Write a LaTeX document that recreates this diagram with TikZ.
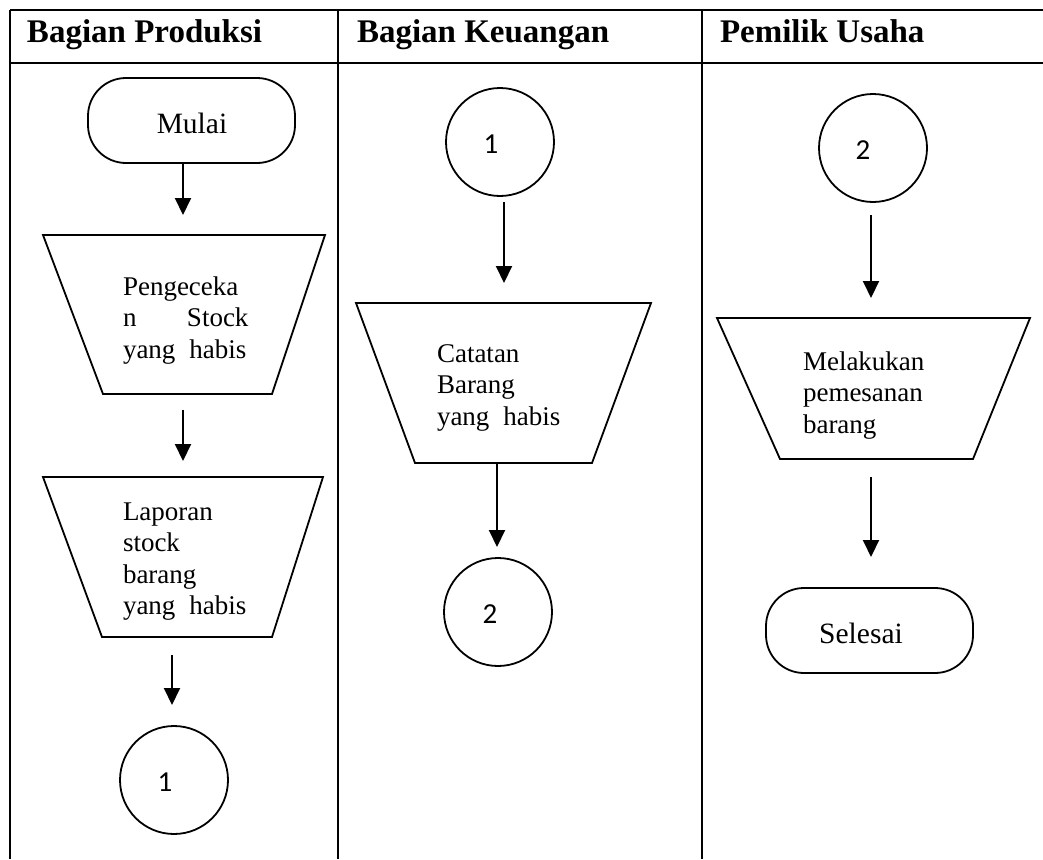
\documentclass[tikz,border=0pt]{standalone}
\usepackage{fontspec}
\setmainfont{Liberation Serif}
\newfontfamily\digitfont{Carlito}
\usetikzlibrary{arrows.meta}
\begin{document}
\begin{tikzpicture}[x=1pt,y=-1pt,
  every node/.style={inner sep=0pt, outer sep=0pt},
  frame/.style={line width=1.5pt},
  rule/.style={line width=2.6pt},
  shapeline/.style={line width=1.8pt},
  flow/.style={line width=2pt,-{Triangle[width=16pt,length=17pt]}},
  body/.style={font=\fontsize{27}{31.5}\selectfont, align=left, anchor=north west},
  head/.style={font=\fontsize{33}{38}\selectfont\bfseries, anchor=base west},
  label/.style={font=\fontsize{29.5}{34}\selectfont, anchor=base},
  terminal/.style={draw, line width=1.8pt, rounded corners=38pt, minimum width=207pt, minimum height=85pt},
  connector/.style={draw, circle, line width=1.8pt, minimum size=108pt},
  digit/.style={font=\digitfont\fontsize{29}{34}\selectfont}]

\useasboundingbox (0,0) rectangle (1043,859);

% swimlane table
\coordinate (tl) at (10,10);   \coordinate (tr) at (1043,10);
\coordinate (hl) at (10,63);   \coordinate (hr) at (1043,63);
\coordinate (l1t) at (10,10);  \coordinate (l1b) at (10,859);
\coordinate (l2t) at (338,10); \coordinate (l2b) at (338,859);
\coordinate (l3t) at (702,10); \coordinate (l3b) at (702,859);
\draw[frame] (l1t) -- (l1b);
\draw[frame] (l2t) -- (l2b);
\draw[frame] (l3t) -- (l3b);
\draw[rule] (tl) -- (tr);
\draw[rule] (hl) -- (hr);

\node[head] (h1) at (27,43) {Bagian Produksi};
\node[head] (h2) at (357,43) {Bagian Keuangan};
\node[head] (h3) at (720,43) {Pemilik Usaha};

% lane 1: Bagian Produksi
\node[terminal] (mulai) at (191.5,120.5) {};
\node[label] (mulaiT) at (192,133) {Mulai};
\coordinate (a1s) at (183,163); \coordinate (a1e) at (183,215);
\draw[flow] (a1s) -- (a1e);

\draw[shapeline] (43,235) -- (325,235) -- (272,394) -- (103,394) -- cycle;
\node[body] (cek) at (123,273) {\strut Pengeceka\\n\hspace{50.5pt}Stock\\yang\hspace{14pt}habis};
\coordinate (a2s) at (183,410); \coordinate (a2e) at (183,461);
\draw[flow] (a2s) -- (a2e);

\draw[shapeline] (43,477) -- (323,477) -- (272,637) -- (102,637) -- cycle;
\node[body] (lap) at (123,498) {\strut Laporan\\stock\\barang\\yang\hspace{14pt}habis};
\coordinate (a3s) at (172,655); \coordinate (a3e) at (172,705);
\draw[flow] (a3s) -- (a3e);

\node[connector] (c1a) at (174,780) {};
\node[digit] (d1a) at (165,782) {1};

% lane 2: Bagian Keuangan
\node[connector] (c1b) at (500,142) {};
\node[digit] (d1b) at (491,144) {1};
\coordinate (a4s) at (504,202); \coordinate (a4e) at (504,283);
\draw[flow] (a4s) -- (a4e);

\draw[shapeline] (356,303) -- (651,303) -- (592,463) -- (415,463) -- cycle;
\node[body] (cat) at (437,340) {\strut Catatan\\Barang\\yang\hspace{14pt}habis};
\coordinate (a5s) at (497,463); \coordinate (a5e) at (497,547);
\draw[flow] (a5s) -- (a5e);

\node[connector] (c2b) at (498,612) {};
\node[digit] (d2b) at (490,614) {2};

% lane 3: Pemilik Usaha
\node[connector] (c2c) at (873,148) {};
\node[digit] (d2c) at (863,150) {2};
\coordinate (a6s) at (871,215); \coordinate (a6e) at (871,298);
\draw[flow] (a6s) -- (a6e);

\draw[shapeline] (717,318) -- (1030,318) -- (973,459) -- (780,459) -- cycle;
\node[body] (pesan) at (803,348) {\strut Melakukan\\pemesanan\\barang};
\coordinate (a7s) at (871,477); \coordinate (a7e) at (871,557);
\draw[flow] (a7s) -- (a7e);

\node[terminal] (selesai) at (869.5,630.5) {};
\node[label] (selesaiT) at (861,643) {Selesai};
\end{tikzpicture}
\end{document}
